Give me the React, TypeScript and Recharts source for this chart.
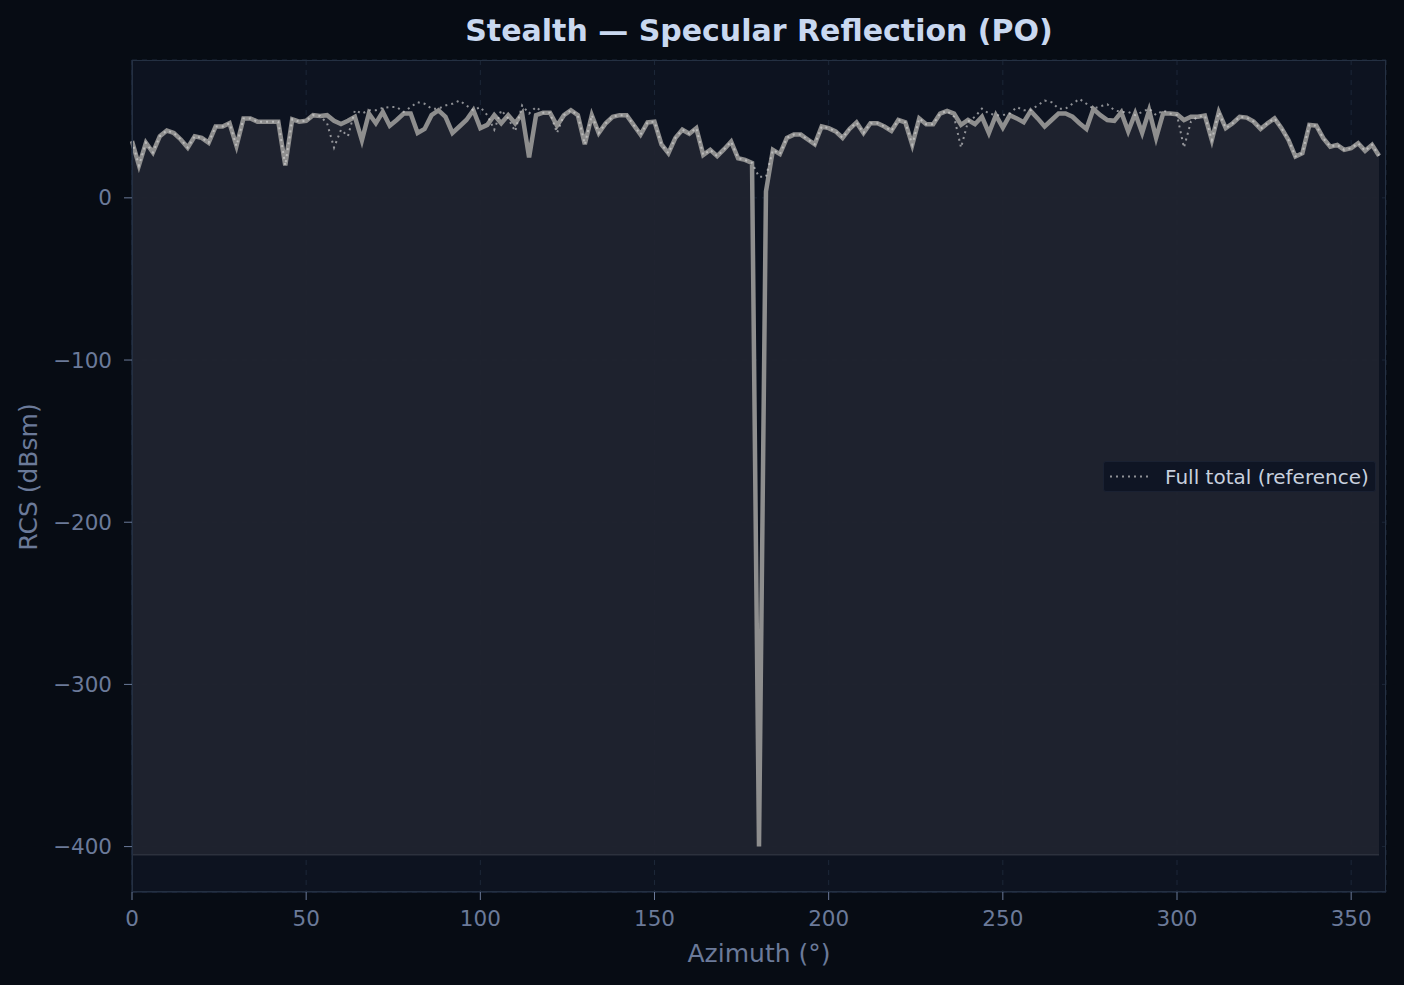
import { Area, CartesianGrid, ComposedChart, Line, XAxis, YAxis } from 'recharts';

// azimuth grid, 2 degree steps
const AZIMUTH = Array.from({ length: 180 }, (_, i) => i * 2);

const PO_RCS = [
  35, 20, 34, 28, 38, 41.5, 40, 36, 31, 38,
  37, 34, 44, 44, 46, 32, 49, 49, 47, 47,
  47, 47, 20, 48.5, 47, 47.5, 51, 50.5, 51, 47.5,
  45.5, 47.5, 50, 35.5, 52, 46, 53, 44.5, 48, 52,
  52, 40, 42.5, 51, 54, 50, 40, 44, 48, 54,
  43, 45, 51, 46, 51, 46, 52, 25, 51, 52.5,
  52.5, 44.5, 51, 54, 51, 33, 51, 40, 46, 50,
  51, 51, 45, 39, 46.5, 47, 33, 27.5, 37, 42,
  39.5, 43, 26.5, 29.6, 25.7, 30, 34.7, 24.4, 23.4, 21.5,
  -400, 4, 29.6, 27, 37, 39, 39, 36, 33, 44,
  43, 41, 37, 42.5, 46.5, 40, 46, 46, 44, 41.3,
  48, 46.6, 32.7, 49, 45.4, 45.4, 52, 53.6, 52, 45,
  48, 45.4, 50, 40, 51, 43.3, 51, 49, 46.6, 53.6,
  49, 44, 48, 52, 52, 50, 46, 42.5, 54.8, 51,
  48, 47.5, 52.8, 41, 52, 40, 54, 37, 52, 52,
  51.6, 48, 50, 50, 50.7, 35.7, 52.8, 43, 46, 50,
  49.5, 47, 42.5, 46, 49, 43, 35.7, 25.5, 27.5, 45,
  44.5, 36.8, 31.6, 32.7, 29.6, 30.6, 33.7, 29, 32.7, 26,
];

const REF_RCS = [
  35, 20, 34, 28, 38, 41.5, 40, 36, 31, 38,
  37, 34, 44, 44, 46, 32, 49, 49, 47, 47,
  47, 47, 20, 48.5, 47, 47.5, 51, 50.5, 46, 31,
  42, 38, 54, 52, 54, 54, 55.5, 56, 56, 53,
  56, 59, 58, 55, 55, 57, 58, 60, 57, 54,
  56, 51, 42, 54, 49, 41, 57, 52, 56, 52.5,
  52.5, 40, 51, 54, 51, 33, 51, 40, 46, 50,
  51, 51, 45, 39, 46.5, 47, 33, 27.5, 37, 42,
  39.5, 43, 26.5, 29.6, 25.7, 30, 34.7, 24.4, 23.4, 21.5,
  13, 13, 29.6, 27, 37, 39, 39, 36, 33, 44,
  43, 41, 37, 42.5, 46.5, 40, 46, 46, 44, 41.3,
  48, 46.6, 32.7, 49, 45.4, 45.4, 52, 53.6, 50, 31,
  47, 50, 55, 52, 51, 51, 52, 56, 54, 54,
  57, 60, 59, 55, 55, 58, 61, 58, 55, 56.5,
  57.7, 54, 53, 53, 51, 53, 55, 51, 54, 52,
  51, 31, 47, 50, 50.7, 35.7, 52.8, 43, 46, 50,
  49.5, 47, 42.5, 46, 49, 43, 35.7, 25.5, 27.5, 45,
  44.5, 36.8, 31.6, 32.7, 29.6, 30.6, 33.7, 29, 32.7, 26,
];

const X_TICKS = [0, 50, 100, 150, 200, 250, 300, 350];
const Y_TICKS = [0, -100, -200, -300, -400];
const FILL_FLOOR = -405;

const data = AZIMUTH.map((az, i) => ({
  az,
  po: PO_RCS[i],
  ref: REF_RCS[i],
  band: [FILL_FLOOR, PO_RCS[i]],
}));

const FONT = '"DejaVu Sans", sans-serif';
const TICK_COLOR = '#6b7a99';
const REF_STROKE = '#d4d4d4';
const fmt = (v: number) => (v < 0 ? `\u2212${Math.abs(v)}` : String(v));

export default function App() {
  return (
    <div
      style={{
        position: 'absolute',
        left: 0,
        top: 0,
        width: 1404,
        height: 985,
        background: '#070c14',
        fontFamily: FONT,
      }}
    >
      <div
        style={{
          position: 'absolute',
          left: 132,
          width: 1254,
          top: 13,
          textAlign: 'center',
          color: '#c9d8f0',
          fontWeight: 'bold',
          fontSize: 30,
          lineHeight: '36px',
        }}
      >
        Stealth — Specular Reflection (PO)
      </div>

      <ComposedChart
        width={1404}
        height={985}
        data={data}
        margin={{ top: 60, right: 18, bottom: 0, left: 0 }}
      >
        <CartesianGrid fill="#0d1320" stroke="#1c2738" strokeDasharray="5 5" />
        <XAxis
          dataKey="az"
          type="number"
          domain={[0, 360]}
          ticks={X_TICKS}
          height={93}
          tickSize={8}
          tickMargin={11}
          stroke="#26324a"
          tickLine={{ stroke: TICK_COLOR }}
          tick={{ fill: TICK_COLOR, fontSize: 21.5, fontFamily: FONT }}
        />
        <YAxis
          type="number"
          domain={[-428, 85]}
          ticks={Y_TICKS}
          width={132}
          tickSize={8}
          tickMargin={12}
          stroke="#26324a"
          tickLine={{ stroke: TICK_COLOR }}
          tickFormatter={fmt}
          tick={{ fill: TICK_COLOR, fontSize: 21.5, fontFamily: FONT }}
        />
        <Area
          dataKey="band"
          type="linear"
          fill="#20242f"
          fillOpacity={0.93}
          stroke="#2c313d"
          strokeWidth={1.5}
          isAnimationActive={false}
        />
        <Line
          dataKey="po"
          type="linear"
          stroke="#8e8e8e"
          strokeWidth={4.5}
          dot={false}
          isAnimationActive={false}
        />
        <Line
          dataKey="ref"
          type="linear"
          stroke={REF_STROKE}
          strokeWidth={2}
          strokeDasharray="2 4"
          strokeOpacity={0.65}
          dot={false}
          isAnimationActive={false}
        />
      </ComposedChart>

      {/* axes frame */}
      <div
        style={{
          position: 'absolute',
          left: 132,
          top: 60,
          width: 1254,
          height: 832,
          border: '1px solid #243042',
          boxSizing: 'border-box',
          pointerEvents: 'none',
        }}
      />

      <div
        style={{
          position: 'absolute',
          left: 132,
          width: 1254,
          top: 938,
          textAlign: 'center',
          color: TICK_COLOR,
          fontSize: 25,
          lineHeight: '32px',
        }}
      >
        Azimuth (°)
      </div>
      <div
        style={{
          position: 'absolute',
          left: 29,
          top: 477,
          transform: 'translate(-50%, -50%) rotate(-90deg)',
          color: TICK_COLOR,
          fontSize: 25,
          lineHeight: '32px',
          whiteSpace: 'nowrap',
        }}
      >
        RCS (dBsm)
      </div>

      {/* legend */}
      <div
        style={{
          position: 'absolute',
          left: 1103,
          top: 461,
          width: 273,
          height: 31,
          background: '#0f1524',
          border: '1px solid #1a2132',
          boxSizing: 'border-box',
          borderRadius: 3,
          display: 'flex',
          alignItems: 'center',
          color: '#c8d0de',
          fontSize: 20,
        }}
      >
        <svg width={61} height={29} style={{ flex: 'none' }}>
          <line
            x1={6}
            x2={46}
            y1={14.5}
            y2={14.5}
            stroke={REF_STROKE}
            strokeWidth={2}
            strokeDasharray="2 4"
            strokeOpacity={0.65}
          />
        </svg>
        <span>Full total (reference)</span>
      </div>
    </div>
  );
}
